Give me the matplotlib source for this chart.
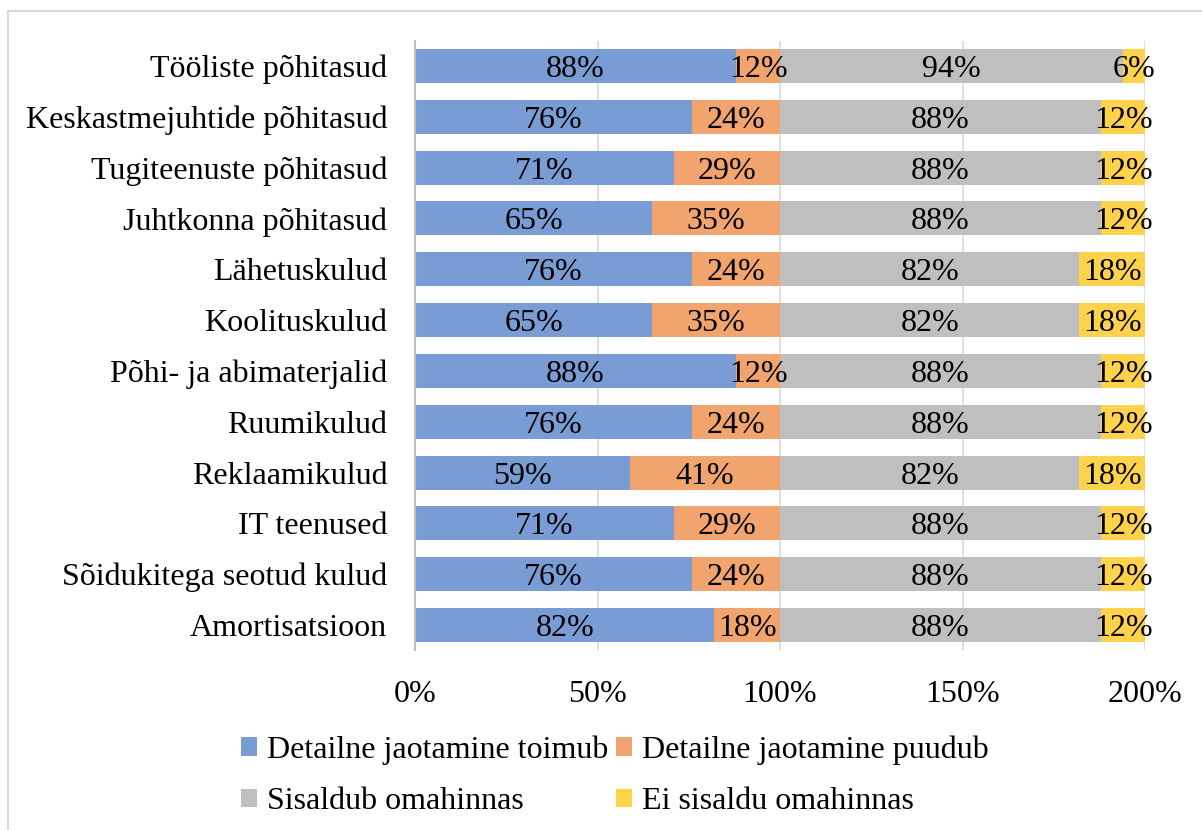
import numpy as np
import matplotlib.pyplot as plt
from matplotlib.lines import Line2D
from matplotlib.patches import Patch

plt.rcParams['font.family'] = ['Liberation Serif', 'DejaVu Serif']

# andmed (ülevalt alla)
categories = ['Tööliste põhitasud', 'Keskastmejuhtide põhitasud', 'Tugiteenuste põhitasud',
              'Juhtkonna põhitasud', 'Lähetuskulud', 'Koolituskulud',
              'Põhi- ja abimaterjalid', 'Ruumikulud', 'Reklaamikulud', 'IT teenused',
              'Sõidukitega seotud kulud', 'Amortisatsioon']
toimub = [88, 76, 71, 65, 76, 65, 88, 76, 59, 71, 76, 82]
puudub = [12, 24, 29, 35, 24, 35, 12, 24, 41, 29, 24, 18]
sisaldub = [94, 88, 88, 88, 82, 82, 88, 88, 82, 88, 88, 88]
ei_sisaldu = [6, 12, 12, 12, 18, 18, 12, 12, 18, 12, 12, 12]

series = [
    ('Detailne jaotamine toimub', toimub, '#7A9CD5'),
    ('Detailne jaotamine puudub', puudub, '#F1A46E'),
    ('Sisaldub omahinnas', sisaldub, '#BFBFBF'),
    ('Ei sisaldu omahinnas', ei_sisaldu, '#FFD24C'),
]
FS = 23

fig = plt.figure(figsize=(12.02, 8.30), dpi=100)
ax = fig.add_axes([415 / 1202, 1 - 650.4 / 830, 730 / 1202, 609.8 / 830])

y = np.arange(len(categories))
left = np.zeros(len(categories))
handles = []
for name, vals, col in series:
    vals = np.array(vals, dtype=float)
    ax.barh(y, vals, left=left, height=0.67, color=col, zorder=2)
    for yi, l, v in zip(y, left, vals):
        ax.text(l + v / 2, yi, f'{int(v)}%', ha='center', va='center_baseline',
                fontsize=FS, color='black', zorder=3)
    left += vals
    handles.append(Patch(facecolor=col, edgecolor='none', label=name))

ax.set_xlim(0, 200)
ax.set_ylim(11.5, -0.5)
ax.set_yticks(y)
ax.set_yticklabels(categories, fontsize=FS)
ax.set_xticks([0, 50, 100, 150, 200])
ax.set_xticklabels(['0%', '50%', '100%', '150%', '200%'], fontsize=FS)
ax.tick_params(axis='both', length=0)
ax.tick_params(axis='x', pad=21)
ax.tick_params(axis='y', pad=20)
ax.grid(axis='x', color='#D9D9D9', linewidth=1.2, zorder=0)
for s in ['top', 'right', 'bottom']:
    ax.spines[s].set_visible(False)
ax.spines['left'].set_color('#BFBFBF')
ax.spines['left'].set_linewidth(1.5)

# legend täitub veergude kaupa -> järjestus nii, et read klapivad
order = [0, 2, 1, 3]
fig.legend(handles=[handles[i] for i in order], ncol=2, loc='upper left',
           bbox_to_anchor=(219 / 1202, 1 - 713 / 830),
           frameon=False, fontsize=FS, handlelength=0.5, handleheight=0.5,
           handletextpad=0.3, columnspacing=0.25, labelspacing=0.7, borderpad=0.2)

# raam
fig.add_artist(Line2D([8 / 1202, 8 / 1202], [0, 1 - 11 / 830], color='#D9D9D9', linewidth=1.5))
fig.add_artist(Line2D([8 / 1202, 1], [1 - 11 / 830, 1 - 11 / 830], color='#D9D9D9', linewidth=1.5))

fig.savefig('out.png', dpi=100)
